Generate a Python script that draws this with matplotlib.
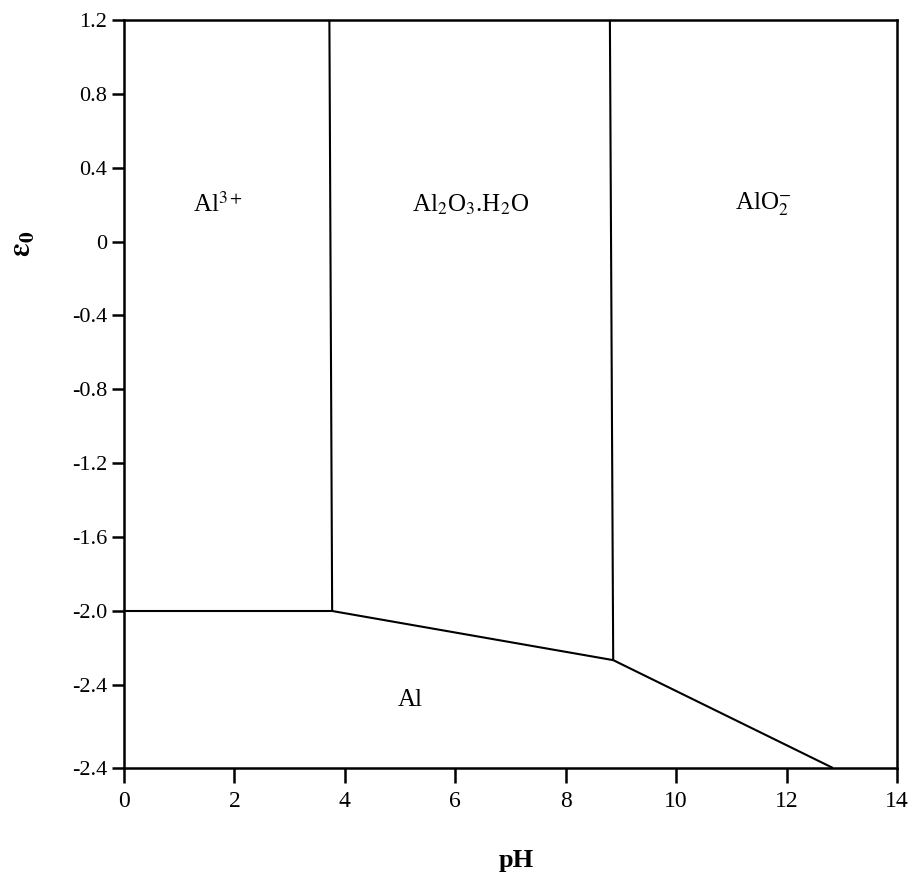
import matplotlib
matplotlib.use("Agg")
import matplotlib.pyplot as plt

plt.rcParams['font.family'] = ['Liberation Serif', 'DejaVu Serif']
plt.rcParams['mathtext.fontset'] = 'stix'

# Boundary lines of the Pourbaix diagram (pH, E0)
al3_al_ph = [0.0, 3.77]
al3_al_e = [-2.0, -2.0]
al3_oxide_ph = [3.72, 3.77]
al3_oxide_e = [1.2, -2.0]
oxide_al_ph = [3.77, 8.86]
oxide_al_e = [-2.0, -2.266]
oxide_alo2_ph = [8.80, 8.86]
oxide_alo2_e = [1.2, -2.266]
alo2_al_ph = [8.86, 12.84]
alo2_al_e = [-2.266, -2.85]

# Region labels
region_names = [r'Al$^{3+}$', r'Al$_2$O$_3$.H$_2$O', r'AlO$_2^{-}$', 'Al']
region_ph = [1.70, 6.27, 11.58, 5.18]
region_e = [0.2, 0.2, 0.2, -2.48]

# Axis ticks
x_ticks = [0, 2, 4, 6, 8, 10, 12, 14]
y_ticks = [1.2, 0.8, 0.4, 0.0, -0.4, -0.8, -1.2, -1.6, -2.0, -2.4, -2.85]
y_tick_labels = ['1.2', '0.8', '0.4', '0', '-0.4', '-0.8', '-1.2', '-1.6', '-2.0', '-2.4', '-2.4']

fig = plt.figure(figsize=(9.13, 8.77), dpi=100)
ax = fig.add_axes([0.1358, 0.1243, 0.8467, 0.8529])

lw = 1.5
for xs, ys in [(al3_al_ph, al3_al_e), (al3_oxide_ph, al3_oxide_e),
               (oxide_al_ph, oxide_al_e), (oxide_alo2_ph, oxide_alo2_e),
               (alo2_al_ph, alo2_al_e)]:
    ax.plot(xs, ys, color='black', lw=lw, solid_capstyle='butt')

for name, px, py in zip(region_names, region_ph, region_e):
    ax.text(px, py, name, ha='center', va='center', fontsize=18)

ax.set_xlim(0, 14)
ax.set_ylim(-2.85, 1.2)
ax.set_xticks(x_ticks)
ax.set_xticklabels([str(t) for t in x_ticks])
ax.set_yticks(y_ticks)
ax.set_yticklabels(y_tick_labels)
ax.tick_params(axis='y', direction='out', length=9, width=1.8, labelsize=16, pad=3)
ax.tick_params(axis='x', direction='out', length=10.5, width=1.8, labelsize=17, pad=6)
for s in ax.spines.values():
    s.set_linewidth(1.8)

ax.set_xlabel('pH', fontsize=19, fontweight='bold')
ax.xaxis.set_label_coords(0.507, -0.108)
ax.set_ylabel(r'$\mathbf{\epsilon_0}$', fontsize=22)
ax.yaxis.set_label_coords(-0.112, 0.70)

fig.savefig('out.png', dpi=100)
